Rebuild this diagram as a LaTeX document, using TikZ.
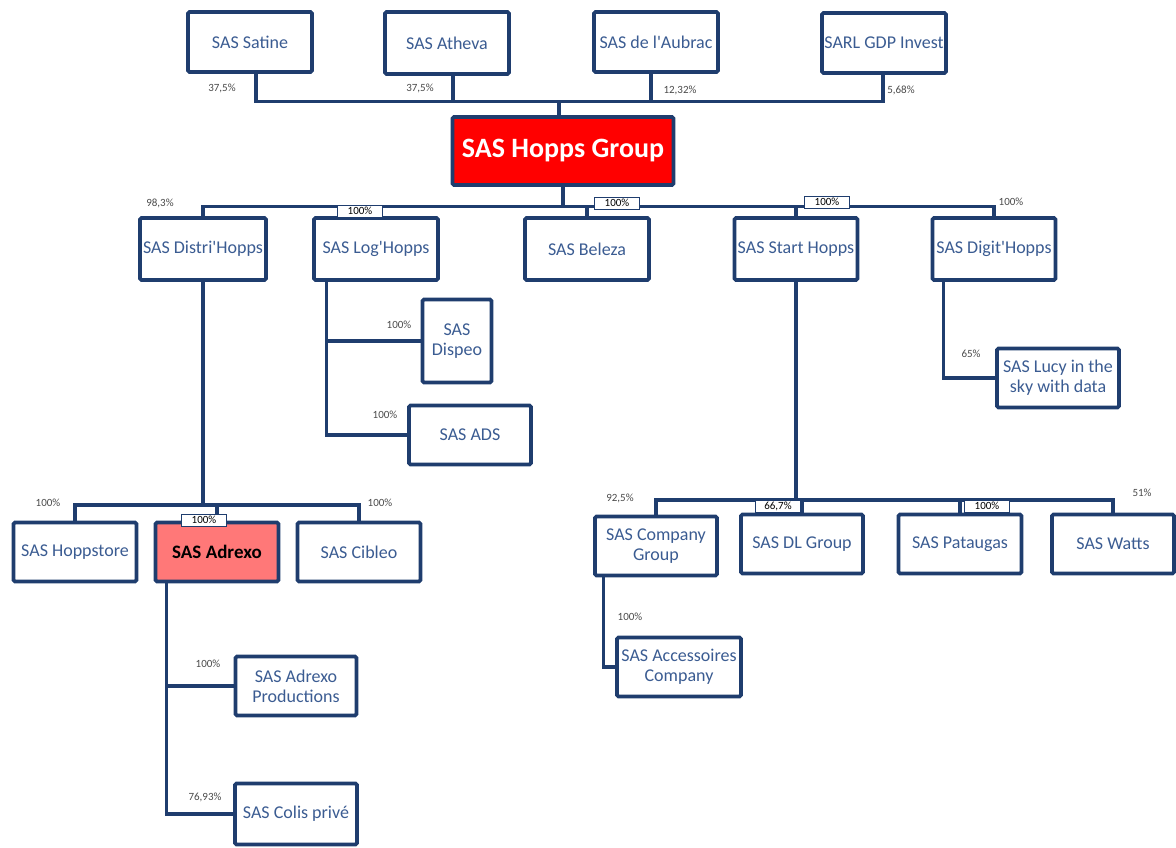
\documentclass[tikz,border=0pt]{standalone}
\usepackage{fontspec}
\setmainfont{Carlito}
\usetikzlibrary{positioning}
\definecolor{HGNavy}{HTML}{1F3D6E}
\definecolor{HGText}{HTML}{3B5C92}
\definecolor{HGRed}{HTML}{FF0000}
\definecolor{HGPink}{HTML}{FF7878}
\definecolor{HGGrey}{HTML}{4A4A4A}

\begin{document}
\begin{tikzpicture}[
    x=1pt, y=-1pt,
    font=\fontsize{18}{20}\selectfont,
    co/.style={draw=HGNavy, line width=3.6pt, rounded corners=1.5pt, fill=white, text=HGText,
      align=center, inner sep=1pt, minimum width=124pt, minimum height=60pt},
    link/.style={draw=HGNavy, line width=3.2pt},
    pct/.style={font=\fontsize{11}{12}\selectfont, text=HGGrey, inner sep=0pt},
    pctbox/.style={pct, draw=HGNavy, line width=0.9pt, fill=white, text=black,
      minimum width=45pt, minimum height=12pt},
  ]
    \useasboundingbox (0,0) rectangle (1176,847);

    % ---- actionnaires ----
    \node[co] (satine) at (250,42) {SAS Satine};
    \node[co, minimum height=62pt] (atheva) at (447,43) {SAS Atheva};
    \node[co] (aubrac) at (656,42) {SAS de l\textquotesingle Aubrac};
    \node[co] (gdp) at (884,43) {SARL GDP Invest};

    % ---- holding ----
    \node[co, fill=HGRed, text=white, font=\fontsize{28}{30}\selectfont\bfseries,
      minimum width=221pt, minimum height=68pt] (hopps) at (563,151) {SAS Hopps Group};

    % ---- filiales directes ----
    \node[co, minimum width=126pt, minimum height=62pt] (distri) at (203,249) {SAS Distri\textquotesingle Hopps};
    \node[co, minimum height=62pt] (log) at (376,249) {SAS Log\textquotesingle Hopps};
    \node[co, minimum height=62pt] (beleza) at (587,249) {SAS Beleza};
    \node[co, minimum width=123pt, minimum height=62pt] (start) at (796,249) {SAS Start Hopps};
    \node[co, minimum width=123pt, minimum height=62pt] (digit) at (994,249) {SAS Digit\textquotesingle Hopps};

    % ---- sous-filiales ----
    \node[co, minimum width=69pt, minimum height=83pt] (dispeo) at (457,341) {SAS\\Dispeo};
    \node[co, minimum width=122pt, minimum height=59pt] (ads) at (470,435) {SAS ADS};
    \node[co, minimum width=122pt, minimum height=59pt] (lucy) at (1058,378) {SAS Lucy in the\\sky with data};

    \node[co, minimum width=123pt, minimum height=59pt] (hoppstore) at (75,552) {SAS Hoppstore};
    \node[co, minimum width=123pt, minimum height=59pt, fill=HGPink, text=black,
      font=\fontsize{19}{21}\selectfont\bfseries] (adrexo) at (217,552) {SAS Adrexo};
    \node[co, minimum width=123pt, minimum height=59pt] (cibleo) at (359,552) {SAS Cibleo};
    \node[co, minimum width=121pt, minimum height=59pt] (prod) at (296,686) {SAS Adrexo\\Productions};
    \node[co, minimum width=122pt, minimum height=61pt] (colis) at (296,814) {SAS Colis privé};

    \node[co, minimum width=122pt, minimum height=59pt] (company) at (656,546) {SAS Company\\Group};
    \node[co, minimum width=122pt, minimum height=59pt] (dl) at (802,544) {SAS DL Group};
    \node[co, minimum width=123pt, minimum height=59pt] (pataugas) at (960,544) {SAS Pataugas};
    \node[co, minimum width=122pt, minimum height=59pt] (watts) at (1113,544) {SAS Watts};
    \node[co, minimum width=124pt, minimum height=59pt] (acc) at (679,667) {SAS Accessoires\\Company};

    % ---- liaisons ----
    \path ([xshift=-4pt]hopps.north) ++(0,-14) coordinate (topbus);
    \foreach \n/\dx in {satine/6,atheva/6,aubrac/-5,gdp/-1}
      \draw[link] ([xshift=\dx pt]\n.south) |- (topbus);
    \draw[link] (topbus) -- (topbus |- hopps.north);

    \path (hopps.south) ++(0,20) coordinate (bus2);
    \draw[link] (hopps.south) -- (bus2);
    \foreach \n in {distri,log,beleza,start,digit}
      \draw[link] (bus2) -| (\n.north);

    \coordinate (logdrop) at ([xshift=14pt]log.south west);
    \draw[link] (logdrop) |- (dispeo.west);
    \draw[link] (logdrop) |- (ads.west);

    \coordinate (digdrop) at ([xshift=13pt]digit.south west);
    \draw[link] (digdrop) |- (lucy.west);

    \coordinate (bus3) at (203,505);
    \draw[link] (distri.south) -- (bus3);
    \foreach \n in {hoppstore,adrexo,cibleo}
      \draw[link] (bus3) -| (\n.north);

    \coordinate (adrdrop) at ([xshift=13pt]adrexo.south west);
    \draw[link] (adrdrop) |- (prod.west);
    \draw[link] (adrdrop) |- (colis.west);

    \coordinate (bus4) at (796,500);
    \draw[link] (start.south) -- (bus4);
    \foreach \n in {company,dl,pataugas,watts}
      \draw[link] (bus4) -| (\n.north);

    \coordinate (comdrop) at ([xshift=10pt]company.south west);
    \draw[link] (comdrop) |- (acc.west);

    % ---- pourcentages ----
    \node[pct] (p1) at (222,88) {37,5\%};
    \node[pct] (p2) at (420,88) {37,5\%};
    \node[pct] (p3) at (680,90) {12,32\%};
    \node[pct] (p4) at (901,90) {5,68\%};

    \node[pct] (p5) at (160,203) {98,3\%};
    \node[pctbox] (p6) at (360,211) {100\%};
    \node[pctbox] (p7) at (617,203) {100\%};
    \node[pctbox] (p8) at (827,202) {100\%};
    \node[pct] (p9) at (1011,202) {100\%};

    \node[pct] (p10) at (399,325) {100\%};
    \node[pct] (p11) at (385,415) {100\%};
    \node[pct] (p12) at (971,354) {65\%};

    \node[pct] (p13) at (48,503) {100\%};
    \node[pctbox] (p14) at (204,520) {100\%};
    \node[pct] (p15) at (380,503) {100\%};
    \node[pct] (p16) at (208,664) {100\%};
    \node[pct] (p17) at (205,797) {76,93\%};

    \node[pct] (p18) at (620,498) {92,5\%};
    \node[pctbox] (p19) at (778,506) {66,7\%};
    \node[pctbox] (p20) at (987,506) {100\%};
    \node[pct] (p21) at (1142,493) {51\%};
    \node[pct] (p22) at (630,617) {100\%};
  \end{tikzpicture}
\end{document}
